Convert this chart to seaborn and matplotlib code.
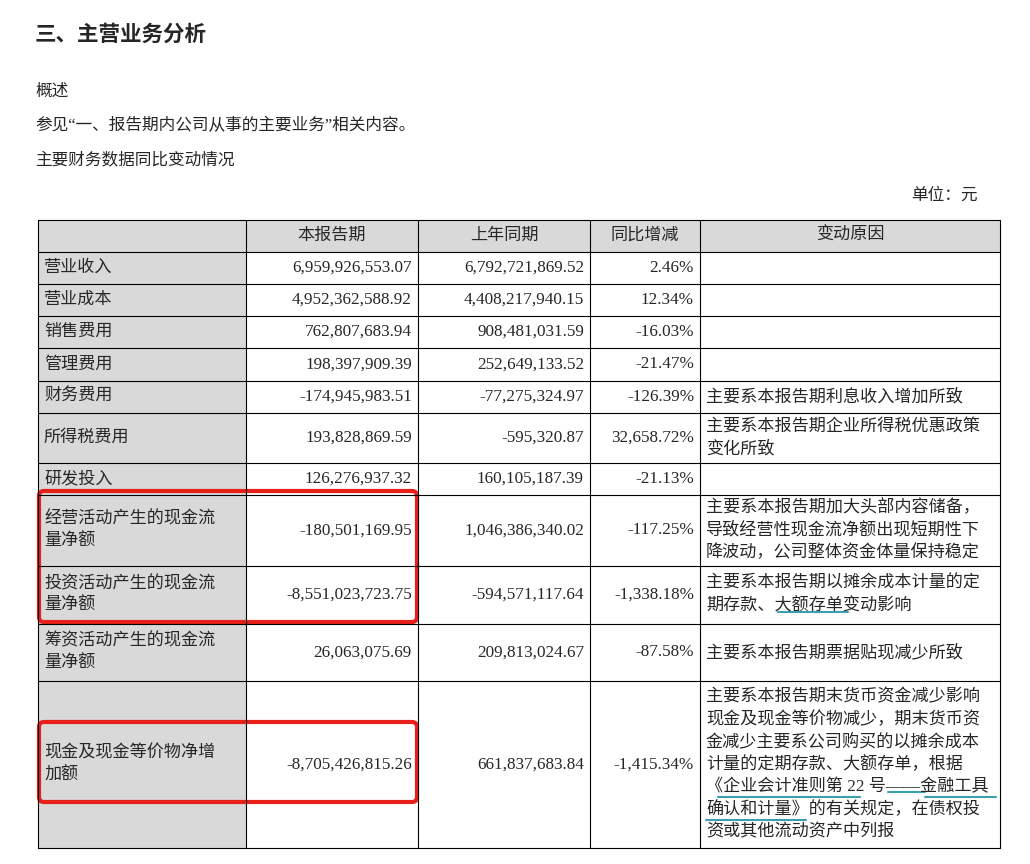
import matplotlib
matplotlib.use("Agg")
import matplotlib.pyplot as plt
from matplotlib.patches import Rectangle, FancyBboxPatch
import seaborn as sns

sns.set_style("white")
plt.rcParams['font.family'] = ['Liberation Serif', 'Noto Sans CJK SC', 'DejaVu Sans']

headers = ["", "本报告期", "上年同期", "同比增减", "变动原因"]
items = ["营业收入", "营业成本", "销售费用", "管理费用", "财务费用", "所得税费用", "研发投入",
         "经营活动产生的现金流\n量净额", "投资活动产生的现金流\n量净额", "筹资活动产生的现金流\n量净额",
         "现金及现金等价物净增\n加额"]
current = ["6,959,926,553.07", "4,952,362,588.92", "762,807,683.94", "198,397,909.39", "-174,945,983.51",
           "193,828,869.59", "126,276,937.32", "-180,501,169.95", "-8,551,023,723.75", "26,063,075.69",
           "-8,705,426,815.26"]
previous = ["6,792,721,869.52", "4,408,217,940.15", "908,481,031.59", "252,649,133.52", "-77,275,324.97",
            "-595,320.87", "160,105,187.39", "1,046,386,340.02", "-594,571,117.64", "209,813,024.67",
            "661,837,683.84"]
change = ["2.46%", "12.34%", "-16.03%", "-21.47%", "-126.39%", "32,658.72%", "-21.13%", "-117.25%",
          "-1,338.18%", "-87.58%", "-1,415.34%"]
reasons = ["", "", "", "", "主要系本报告期利息收入增加所致",
           "主要系本报告期企业所得税优惠政策\n变化所致", "",
           "主要系本报告期加大头部内容储备，\n导致经营性现金流净额出现短期性下\n降波动，公司整体资金体量保持稳定",
           "主要系本报告期以摊余成本计量的定\n期存款、大额存单变动影响",
           "主要系本报告期票据贴现减少所致",
           "主要系本报告期末货币资金减少影响\n现金及现金等价物减少，期末货币资\n金减少主要系公司购买的以摊余成本\n计量的定期存款、大额存单，根据\n《企业会计准则第 22 号——金融工具\n确认和计量》的有关规定，在债权投\n资或其他流动资产中列报"]

xs = [38, 246, 418, 590, 700, 1000]
ys = [220, 252, 284, 316, 348, 381, 413, 463, 495, 566, 624, 681, 848]

fig = plt.figure(figsize=(10.3, 8.64), dpi=100)
ax = fig.add_axes([0, 0, 1, 1])
ax.set_xlim(0, 1030); ax.set_ylim(864, 0); ax.axis("off")

fs = 12.3
ax.text(35, 35, "三、主营业务分析", fontsize=15.5, fontweight="bold", va="center")
ax.text(35, 92, "概述", fontsize=12, va="center")
ax.text(35, 126, "参见“一、报告期内公司从事的主要业务”相关内容。", fontsize=12, va="center")
ax.text(35, 160, "主要财务数据同比变动情况", fontsize=12, va="center")
ax.text(978, 196, "单位：元", fontsize=12, va="center", ha="right")

gray = "#d9d9d9"
ax.add_patch(Rectangle((xs[0], ys[0]), xs[-1]-xs[0], ys[1]-ys[0], fc=gray, ec="none"))
ax.add_patch(Rectangle((xs[0], ys[0]), xs[1]-xs[0], ys[-1]-ys[0], fc=gray, ec="none"))
for y in ys:
    ax.plot([xs[0], xs[-1]], [y, y], color="black", lw=0.8)
for x in xs:
    ax.plot([x, x], [ys[0], ys[-1]], color="black", lw=0.8)

for j, h in enumerate(headers):
    if h:
        ax.text((xs[j]+xs[j+1])/2, (ys[0]+ys[1])/2, h, fontsize=fs, ha="center", va="center")

lh = 22.5
for i in range(len(items)):
    yc = (ys[i+1]+ys[i+2])/2
    ax.text(xs[0]+6, yc, items[i], fontsize=fs, va="center", linespacing=1.45)
    ax.text(xs[2]-6, yc, current[i], fontsize=fs, va="center", ha="right")
    ax.text(xs[3]-6, yc, previous[i], fontsize=fs, va="center", ha="right")
    ax.text(xs[4]-6, yc, change[i], fontsize=fs, va="center", ha="right")
    if reasons[i]:
        lines = reasons[i].split("\n")
        y0 = yc - (len(lines)-1)*lh/2
        for k, ln in enumerate(lines):
            ax.text(xs[4]+6, y0 + k*lh, ln, fontsize=fs, va="center")

teal = "#3aa0b0"
ax.plot([778, 848], [612, 612], color=teal, lw=1.5)
ax.plot([718, 860], [797, 797], color=teal, lw=1.5)
ax.plot([888, 925], [792, 792], color=teal, lw=1.5)
ax.plot([925, 996], [797, 797], color=teal, lw=1.5)
ax.plot([706, 806], [820, 820], color=teal, lw=1.5)

for (y0, y1) in [(491, 622), (722, 802)]:
    ax.add_patch(FancyBboxPatch((39, y0), 378, y1-y0, boxstyle="round,pad=0,rounding_size=5",
                                fc="none", ec="#e8201a", lw=3))

fig.savefig("out.png", dpi=100)
